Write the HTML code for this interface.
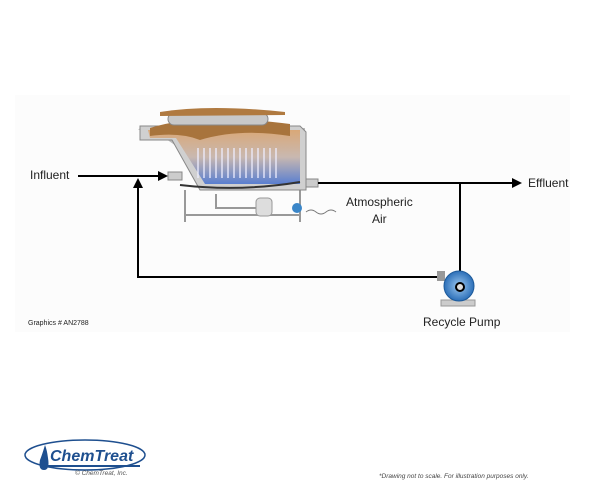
<!DOCTYPE html>
<html><head><style>
body{margin:0;width:600px;height:500px;background:#fff;position:relative;font-family:"Liberation Sans",sans-serif;overflow:hidden}
.t{position:absolute;color:#222;font-size:12px}
</style></head><body>
<div style="position:absolute;left:15px;top:95px;width:555px;height:237px;background:#fcfcfc"></div>
<svg width="600" height="500" style="position:absolute;left:0;top:0">
<defs>
<linearGradient id="w" x1="0" y1="0" x2="0" y2="1"><stop offset="0" stop-color="#d9a878"/><stop offset="0.5" stop-color="#c9b8b0"/><stop offset="1" stop-color="#5a7fd0"/></linearGradient>
<radialGradient id="p" cx="0.5" cy="0.5" r="0.5"><stop offset="0" stop-color="#9cc8f0"/><stop offset="1" stop-color="#2c6fb8"/></radialGradient>
</defs>
<!-- tank frame -->
<g stroke="#999" stroke-width="2" fill="none">
<line x1="185" y1="190" x2="185" y2="222"/><line x1="300" y1="190" x2="300" y2="222"/>
<line x1="185" y1="215" x2="300" y2="215"/>
<polyline points="216,194 216,208 262,208"/>
</g>
<rect x="256" y="198" width="16" height="18" rx="4" fill="#ddd" stroke="#999"/>
<polygon points="138,130 150,128 182,150 198,185 305,190 305,128 140,128" fill="#bbb"/>
<path d="M140,126 L300,126 L306,132 L306,190 L200,190 L172,140 L140,140 Z" fill="#d0d0d0" stroke="#888"/>
<path d="M148,130 L300,130 L300,184 L205,184 L176,138 L150,138 Z" fill="url(#w)"/>
<g stroke="#eef" stroke-width="1.3">
<line x1="198" y1="148" x2="198" y2="178"/><line x1="204" y1="148" x2="204" y2="178"/><line x1="210" y1="148" x2="210" y2="178"/><line x1="216" y1="148" x2="216" y2="178"/><line x1="222" y1="148" x2="222" y2="178"/><line x1="228" y1="148" x2="228" y2="178"/><line x1="234" y1="148" x2="234" y2="178"/><line x1="240" y1="148" x2="240" y2="178"/><line x1="246" y1="148" x2="246" y2="178"/><line x1="252" y1="148" x2="252" y2="178"/><line x1="258" y1="148" x2="258" y2="178"/><line x1="264" y1="148" x2="264" y2="178"/><line x1="270" y1="148" x2="270" y2="178"/><line x1="276" y1="148" x2="276" y2="178"/>
</g>
<path d="M150,128 Q200,112 290,124 L290,136 Q240,128 200,140 Q180,132 150,136 Z" fill="#a8743c"/>
<rect x="168" y="113" width="100" height="12" rx="6" fill="#c8c8c8" stroke="#888"/>
<path d="M160,112 Q210,104 285,112 L285,115 L160,116Z" fill="#b07a40"/>
<path d="M180,185 Q240,192 300,182" stroke="#333" stroke-width="2" fill="none"/>
<rect x="168" y="172" width="14" height="8" fill="#ccc" stroke="#888"/>
<rect x="306" y="179" width="12" height="8" fill="#ccc" stroke="#888"/>
<circle cx="297" cy="208" r="5" fill="#3a86c8"/>
<path d="M306,212 q5,-4 10,0 t10,0 t10,0" stroke="#777" fill="none"/>
<!-- lines -->
<g stroke="#000" stroke-width="2" fill="none">
<line x1="78" y1="176" x2="162" y2="176"/>
<polyline points="440,277 138,277 138,186"/>
<line x1="318" y1="183" x2="515" y2="183"/>
<line x1="460" y1="183" x2="460" y2="287"/>
</g>
<polygon points="168,176 158,171 158,181" fill="#000"/>
<polygon points="138,178 133,188 143,188" fill="#000"/>
<polygon points="522,183 512,178 512,188" fill="#000"/>
<!-- pump -->
<rect x="437" y="271" width="8" height="10" fill="#999"/>
<rect x="441" y="300" width="34" height="6" fill="#ccc" stroke="#999"/>
<circle cx="459" cy="286" r="15" fill="url(#p)" stroke="#1d5a9a"/>
<circle cx="460" cy="287" r="4" fill="#ddd" stroke="#000" stroke-width="2"/>
<!-- logo -->
<ellipse cx="85" cy="455" rx="60" ry="15" fill="none" stroke="#1e4f8f" stroke-width="1.5"/>
<path d="M45,445 Q42,455 40,460 Q38,470 44,470 Q50,470 48,458 Q47,450 45,445Z" fill="#1e4f8f"/>
<line x1="46" y1="466" x2="140" y2="466" stroke="#1e4f8f" stroke-width="2"/>
</svg>
<div class="t" style="left:30px;top:168px">Influent</div>
<div class="t" style="left:528px;top:176px">Effluent</div>
<div class="t" style="left:346px;top:194px;text-align:center;line-height:17px">Atmospheric<br>Air</div>
<div class="t" style="left:423px;top:315px">Recycle Pump</div>
<div class="t" style="left:28px;top:320px;font-size:7px">Graphics # AN2788</div>
<div class="t" style="left:50px;top:448px;font-size:16px;font-weight:bold;font-style:italic;color:#1e4f8f">ChemTreat</div>
<div class="t" style="left:75px;top:470px;font-size:6.5px;font-style:italic;color:#555">© ChemTreat, Inc.</div>
<div class="t" style="left:379px;top:473px;font-size:6.5px;font-style:italic;color:#444">*Drawing not to scale. For illustration purposes only.</div>
</body></html>
